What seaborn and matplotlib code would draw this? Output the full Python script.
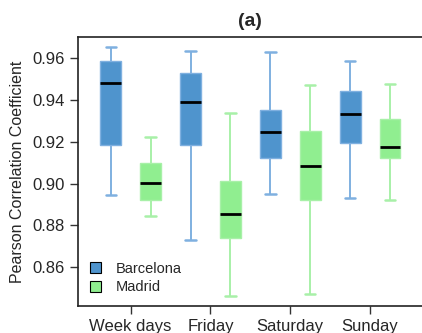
import numpy as np
import pandas as pd
import matplotlib
matplotlib.use("Agg")
import matplotlib.pyplot as plt
import seaborn as sns
from matplotlib.patches import Patch

days = ["Week days", "Friday", "Saturday", "Sunday"]
cities = ["Barcelona", "Madrid"]
# five-number summaries [min, q1, median, q3, max]
barcelona_stats = [
    [0.8943, 0.9182, 0.9480, 0.9587, 0.9653],
    [0.8732, 0.9184, 0.9391, 0.9530, 0.9632],
    [0.8951, 0.9120, 0.9244, 0.9353, 0.9629],
    [0.8932, 0.9193, 0.9333, 0.9444, 0.9587],
]
madrid_stats = [
    [0.8845, 0.8919, 0.9002, 0.9100, 0.9220],
    [0.8463, 0.8742, 0.8856, 0.9010, 0.9338],
    [0.8474, 0.8919, 0.9085, 0.9251, 0.9469],
    [0.8919, 0.9122, 0.9176, 0.9310, 0.9474],
]
yticks = [0.86, 0.88, 0.90, 0.92, 0.94, 0.96]

fill_colors = {"Barcelona": "#4f94cd", "Madrid": "#90ee90"}
edge_colors = {"Barcelona": "#7fb0e0", "Madrid": "#a8f0a8"}

rows = []
for city, stats in zip(cities, [barcelona_stats, madrid_stats]):
    for day, vals in zip(days, stats):
        for v in vals:
            rows.append({"day": day, "city": city, "value": v})
df = pd.DataFrame(rows)

sns.set_style("ticks")
plt.rcParams["font.family"] = ["Liberation Sans", "DejaVu Sans"]

fig = plt.figure(figsize=(4.22, 3.33), dpi=100)
ax = fig.add_axes([78 / 422, 27 / 333, 344 / 422, 269 / 333])

sns.boxplot(data=df, x="day", y="value", hue="city", order=days, hue_order=cities,
            palette=fill_colors, whis=(0, 100), width=1.0, gap=0.48,
            saturation=1, linewidth=1.2, fliersize=0,
            medianprops={"color": "black", "linewidth": 2},
            legend=False, ax=ax)

for cont, city in zip(ax.containers, cities):
    ec = edge_colors[city]
    for b in cont.boxes:
        b.set_edgecolor(ec)
        b.set_linewidth(1.0)
    for w in cont.whiskers:
        w.set_color(ec)
        w.set_linewidth(1.4)
    for c in cont.caps:
        c.set_color(ec)
        c.set_linewidth(1.8)
    for m in cont.medians:
        m.set_color("black")
        m.set_linewidth(2)

ax.set_xlim(-0.66, 3.65)
ax.set_ylim(0.8415, 0.970)
ax.set_yticks(yticks)
ax.set_yticklabels([f"{t:.2f}" for t in yticks])
ax.set_xlabel("")
ax.set_ylabel("Pearson Correlation Coefficient", fontsize=11.5, labelpad=5)
ax.tick_params(axis="both", labelsize=12, length=6, width=1, color="#333333")
for s in ["left", "bottom", "top"]:
    ax.spines[s].set_linewidth(1.2)
    ax.spines[s].set_color("#222222")
ax.spines["right"].set_visible(False)
ax.set_title("(a)", fontsize=14, fontweight="bold", pad=8)

handles = [Patch(facecolor=fill_colors[c], edgecolor="black", linewidth=0.8, label=c) for c in cities]
ax.legend(handles=handles, loc="lower left", frameon=False, fontsize=10.5,
          handlelength=0.8, handleheight=0.8, borderaxespad=0.4, labelspacing=0.3,
          handletextpad=1.0)

fig.savefig("out.png", dpi=100)
